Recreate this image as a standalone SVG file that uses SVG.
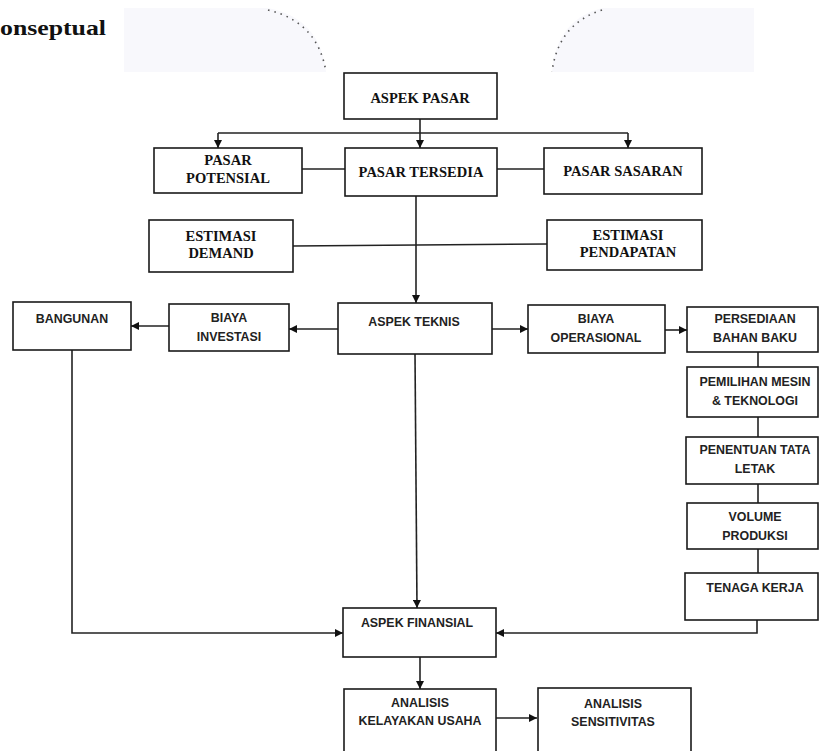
<svg xmlns="http://www.w3.org/2000/svg" width="820" height="751" viewBox="0 0 820 751">
<style>
.box{fill:#fff;stroke:#1a1a1a;stroke-width:1.6}
.ln{fill:none;stroke:#222;stroke-width:1.6}
.sf{font-family:"Liberation Serif","Times New Roman",serif;font-weight:bold;font-size:14.5px;fill:#111;text-anchor:middle}
.ss{font-family:"Liberation Sans",Arial,sans-serif;font-weight:bold;font-size:12.4px;fill:#222;text-anchor:middle}
.fade{fill:#f8f8fc;stroke:none}
.dot{fill:none;stroke:#555;stroke-width:1.6;stroke-dasharray:1.5 5}
</style>
<defs>
<marker id="ah" viewBox="0 0 10 10" refX="10" refY="5" markerWidth="8" markerHeight="8" markerUnits="userSpaceOnUse" orient="auto">
<path d="M0,0 L10,5 L0,10 z" fill="#111"/>
</marker>
</defs>
<rect width="820" height="751" fill="#fff"/>
<g id="decor">
<path class="fade" d="M124,8 H268 Q320,18 326,72 H124 Z"/>
<path class="dot" d="M268,10 Q318,22 326,72"/>
<path class="fade" d="M754,8 H602 Q556,20 552,72 H754 Z"/>
<path class="dot" d="M602,10 Q558,24 552,72"/>
<text x="0" y="35" font-family="Liberation Serif,'Times New Roman',serif" font-weight="bold" font-size="22" textLength="106" lengthAdjust="spacingAndGlyphs" fill="#111">onseptual</text>
</g>
<g id="connectors">
<path class="ln" d="M420,119 V133"/>
<path class="ln" d="M218,133 H628"/>
<path class="ln" d="M218,133 V148" marker-end="url(#ah)"/>
<path class="ln" d="M420,133 V148" marker-end="url(#ah)"/>
<path class="ln" d="M628,133 V148" marker-end="url(#ah)"/>
<path class="ln" d="M302,169 H345"/>
<path class="ln" d="M497,169 H544"/>
<path class="ln" d="M293,246 L547,244"/>
<path class="ln" d="M416,196 V303" marker-end="url(#ah)"/>
<path class="ln" d="M169,326 H131" marker-end="url(#ah)"/>
<path class="ln" d="M338,329 H289" marker-end="url(#ah)"/>
<path class="ln" d="M492,329 H528" marker-end="url(#ah)"/>
<path class="ln" d="M665,330 H687" marker-end="url(#ah)"/>
<path class="ln" d="M758,352 V367"/>
<path class="ln" d="M758,417 V437"/>
<path class="ln" d="M758,484 V503"/>
<path class="ln" d="M758,549 V573"/>
<path class="ln" d="M757,620 V633 H496" marker-end="url(#ah)"/>
<path class="ln" d="M72,350 V633 H343" marker-end="url(#ah)"/>
<path class="ln" d="M415,354 L417,608" marker-end="url(#ah)"/>
<path class="ln" d="M420,657 V689" marker-end="url(#ah)"/>
<path class="ln" d="M496,718 H537" marker-end="url(#ah)"/>
</g>
<g id="aspek-pasar"><rect class="box" x="344" y="73" width="153" height="46"/><text class="sf" x="420" y="103">ASPEK PASAR</text></g>
<g id="pasar-potensial"><rect class="box" x="154" y="148" width="148" height="45"/><text class="sf" x="228" y="165">PASAR</text><text class="sf" x="228" y="183">POTENSIAL</text></g>
<g id="pasar-tersedia"><rect class="box" x="345" y="148" width="152" height="48"/><text class="sf" x="421" y="177">PASAR TERSEDIA</text></g>
<g id="pasar-sasaran"><rect class="box" x="544" y="148" width="158" height="46"/><text class="sf" x="623" y="176">PASAR SASARAN</text></g>
<g id="estimasi-demand"><rect class="box" x="149" y="220" width="144" height="52"/><text class="sf" x="221" y="241">ESTIMASI</text><text class="sf" x="221" y="258">DEMAND</text></g>
<g id="estimasi-pendapatan"><rect class="box" x="547" y="220" width="155" height="50"/><text class="sf" x="628" y="240">ESTIMASI</text><text class="sf" x="628" y="257">PENDAPATAN</text></g>
<g id="bangunan"><rect class="box" x="13" y="302" width="118" height="48"/><text class="ss" x="72" y="323">BANGUNAN</text></g>
<g id="biaya-investasi"><rect class="box" x="169" y="304" width="120" height="47"/><text class="ss" x="229" y="322">BIAYA</text><text class="ss" x="229" y="341">INVESTASI</text></g>
<g id="aspek-teknis"><rect class="box" x="338" y="303" width="154" height="51"/><text class="ss" x="414" y="326">ASPEK TEKNIS</text></g>
<g id="biaya-operasional"><rect class="box" x="528" y="305" width="137" height="48"/><text class="ss" x="596" y="323">BIAYA</text><text class="ss" x="596" y="342">OPERASIONAL</text></g>
<g id="persediaan"><rect class="box" x="687" y="307" width="131" height="45"/><text class="ss" x="755" y="323">PERSEDIAAN</text><text class="ss" x="755" y="342">BAHAN BAKU</text></g>
<g id="pemilihan"><rect class="box" x="687" y="367" width="131" height="50"/><text class="ss" x="755" y="386">PEMILIHAN MESIN</text><text class="ss" x="755" y="405">&amp; TEKNOLOGI</text></g>
<g id="penentuan"><rect class="box" x="686" y="437" width="132" height="47"/><text class="ss" x="755" y="454">PENENTUAN TATA</text><text class="ss" x="755" y="473">LETAK</text></g>
<g id="volume"><rect class="box" x="687" y="503" width="131" height="46"/><text class="ss" x="755" y="521">VOLUME</text><text class="ss" x="755" y="540">PRODUKSI</text></g>
<g id="tenaga-kerja"><rect class="box" x="685" y="573" width="133" height="47"/><text class="ss" x="755" y="592">TENAGA KERJA</text></g>
<g id="aspek-finansial"><rect class="box" x="343" y="608" width="153" height="49"/><text class="ss" x="417" y="627">ASPEK FINANSIAL</text></g>
<g id="analisis-kelayakan"><rect class="box" x="344" y="689" width="152" height="75"/><text class="ss" x="420" y="707">ANALISIS</text><text class="ss" x="420" y="725">KELAYAKAN USAHA</text></g>
<g id="analisis-sensitivitas"><rect class="box" x="538" y="688" width="153" height="76"/><text class="ss" x="613" y="708">ANALISIS</text><text class="ss" x="613" y="726">SENSITIVITAS</text></g>
</svg>
